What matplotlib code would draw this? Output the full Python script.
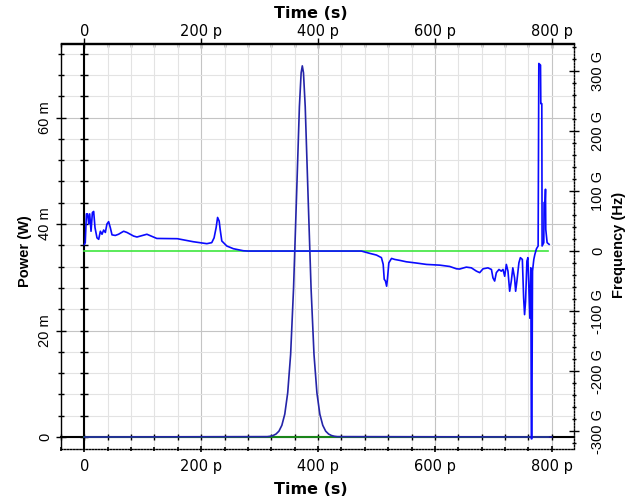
import matplotlib
matplotlib.use("Agg")
import matplotlib.pyplot as plt
from matplotlib.ticker import FixedLocator, MultipleLocator, NullFormatter

# ---------------- data (time in ps, power in mW, frequency in GHz) ----------------
power_t = [0, 313, 318, 323, 328, 333, 338, 343, 348, 353, 358, 363, 368, 371, 373,
           375, 378, 383, 388, 393, 398, 403, 408, 413, 418, 423, 428, 433, 800]
power_p = [0, 0.07, 0.14, 0.28, 0.56, 1.1, 2.2, 4.3, 8.3, 15.5, 27.9, 44.8, 62.0, 68.4, 69.7,
           68.4, 62.0, 44.8, 27.9, 15.5, 8.3, 4.3, 2.2, 1.1, 0.56, 0.28, 0.14, 0.07, 0]

freq_t = [0, 1.5, 3.5, 5.5, 7.4, 9.1, 11.4, 13.7, 15.9, 18.2, 21.6, 24.5, 27.4, 30.2, 33,
          35.9, 38.6, 41.5, 44.4, 47.3, 52.9, 58.5, 67.2, 72.9, 84.2, 90, 107, 124, 159,
          186, 209.6, 218, 222, 225.5, 228, 230.7, 232.4, 235.2, 243.8, 255, 272, 280,
          474, 488.6, 500, 508.4, 511.4, 513.2, 515.3, 517.3, 518.9, 521.1, 525.7, 531.2,
          540, 551, 568.4, 585.5, 608.3, 625.3, 636.8, 642.2, 653.7, 662.4, 671, 676.6,
          682.3, 690.7, 696.7, 699.3, 702.2, 705.1, 709.6, 713.5, 716.5, 719.4, 722.2,
          725, 727.9, 730.7, 733.3, 736.3, 738.1, 740.3, 743.7, 746.2, 749.6, 751.8,
          753.4, 755.1, 757.4, 759.1, 762.4, 764.1, 765.0, 765.8, 767.0, 769.2, 771.0,
          773.8, 776.6, 777.8, 780.7, 781.2, 782.9, 783.4, 786.3, 786.8, 788.5, 789.2,
          789.7, 792.0, 795.4]
freq_f = [11, 14, 62, 62, 45, 62, 33, 64, 66, 39, 22, 19.6, 33, 28, 35,
          31, 45, 49, 39, 27, 26, 28, 33, 31, 25, 23.4, 28, 21, 20.6,
          15.6, 12.3, 14, 22, 39, 56, 50, 36, 16.8, 8.4, 3.9, 0.5, 0,
          0, -3.9, -6.7, -11, -22, -47, -50, -58.6, -44.7, -19.6, -12.3, -14,
          -15.6, -17.9, -20, -22.3, -23.5, -25.7, -29.6, -30, -26.8, -28, -33.5, -36,
          -29.6, -28, -30.7, -44.7, -50, -36, -30.7, -33.5, -30.7, -42, -22.3,
          -33.5, -67, -50, -28, -44.7, -67, -50, -19.6, -11, -14, -78,
          -106, -84, -16.8, -11, -112, -28, -313, -313, -33.5, -14, -5.6,
          3.9, 8.4, 312.7, 310, 245.7, 245.7, 8.4, 14, 81, 81, 103,
          36, 14, 11.2]

ref_t = [0, 794]
ref_power = [0, 0]
ref_freq = [0, 0]

time_ticks = [0, 200, 400, 600, 800]
time_labels = ["0", "200 p", "400 p", "600 p", "800 p"]
power_ticks = [0, 20, 40, 60]
power_labels = ["0", "20 m", "40 m", "60 m"]
freq_ticks = [-300, -200, -100, 0, 100, 200, 300]
freq_labels = ["-300 G", "-200 G", "-100 G", "0", "100 G", "200 G", "300 G"]

# ---------------- layout ----------------
W_PX, H_PX = 638, 501
XLIM = (-40, 838)
PLIM = (-2.25, 73.9)
FLIM = (-330, 346)

fig = plt.figure(figsize=(W_PX / 100, H_PX / 100), dpi=100)
left, right, top, bottom = 61, 574, 43.5, 449
ax = fig.add_axes([left / W_PX, 1 - bottom / H_PX, (right - left) / W_PX, (bottom - top) / H_PX])
ax.set_xlim(XLIM)
ax.set_ylim(PLIM)

TICK_H = dict(family="DejaVu Sans", size=10.5)
TICK_V = dict(family="Liberation Sans", size=10.5)

# grid
ax.xaxis.set_major_locator(FixedLocator(time_ticks))
ax.xaxis.set_minor_locator(MultipleLocator(40))
ax.yaxis.set_major_locator(FixedLocator(power_ticks))
ax.yaxis.set_minor_locator(MultipleLocator(4))
ax.grid(which="minor", color="#e3e3e3", lw=0.8)
ax.grid(which="major", color="#c4c4c4", lw=0.8)
ax.set_axisbelow(True)

ax.set_xticklabels(time_labels, **TICK_H)
ax.set_yticklabels(power_labels, rotation=90, va="center", **TICK_V)

# spines of main axes
ax.spines["right"].set_visible(False)
ax.spines["left"].set_linewidth(1.0)
ax.spines["top"].set_linewidth(1.0)
ax.spines["bottom"].set_linewidth(1.0)
ax.spines["bottom"].set_linestyle((0, (1, 1.2)))

ax.tick_params(axis="y", which="major", direction="inout", length=7, width=1, pad=3)
ax.tick_params(axis="y", which="minor", direction="inout", length=5, width=1)
ax.tick_params(axis="x", which="major", direction="inout", length=4, width=1.2, pad=5)
ax.tick_params(axis="x", which="minor", direction="inout", length=3, width=1.2)

# top axis
top_ax = ax.secondary_xaxis("top")
top_ax.xaxis.set_major_locator(FixedLocator(time_ticks))
top_ax.xaxis.set_minor_locator(MultipleLocator(40))
top_ax.set_xticklabels(time_labels, **TICK_H)
top_ax.tick_params(which="major", direction="inout", length=7, width=1, pad=0)
top_ax.tick_params(which="minor", direction="in", length=3, width=1)
top_ax.spines["top"].set_linewidth(1.0)

# zero lines with ticks (axes through origin)
loc_x0 = (0 - XLIM[0]) / (XLIM[1] - XLIM[0])
loc_y0 = (0 - PLIM[0]) / (PLIM[1] - PLIM[0])
vz = ax.secondary_yaxis(loc_x0)
vz.set_zorder(1)
vz.yaxis.set_major_locator(FixedLocator(power_ticks))
vz.yaxis.set_minor_locator(MultipleLocator(4))
vz.yaxis.set_major_formatter(NullFormatter())
vz.tick_params(which="both", direction="inout", length=6, width=1)
for s in vz.spines.values():
    s.set_linewidth(1.5)
hz = ax.secondary_xaxis(loc_y0)
hz.set_zorder(1)
hz.xaxis.set_major_locator(FixedLocator(time_ticks))
hz.xaxis.set_minor_locator(MultipleLocator(40))
hz.xaxis.set_major_formatter(NullFormatter())
hz.tick_params(which="both", direction="inout", length=5, width=1)
for s in hz.spines.values():
    s.set_linewidth(1.5)

# power traces
ax.plot(ref_t, ref_power, color="#20a020", lw=1.2, zorder=3)
ax.plot(power_t, power_p, color="#2424a8", lw=1.2, zorder=4)

# frequency axis
ax2 = ax.twinx()
ax2.set_ylim(FLIM)
ax2.set_yticks(freq_ticks)
ax2.set_yticklabels(freq_labels, rotation=90, va="center", **TICK_V)
ax2.yaxis.set_minor_locator(MultipleLocator(20))
ax2.tick_params(which="major", direction="inout", length=7, width=1, pad=9)
ax2.tick_params(which="minor", direction="inout", length=3, width=1)
for k in ("left", "top", "bottom"):
    ax2.spines[k].set_visible(False)
ax2.spines["right"].set_linewidth(1.0)
ax2.spines["right"].set_linestyle((0, (1, 1.2)))
ax2.plot(ref_t, ref_freq, color="#3ee63e", lw=1.2, zorder=3)
ax2.plot(freq_t, freq_f, color="#0a0aff", lw=1.2, zorder=4)

# axis titles
fig.text(311 / W_PX, 1 - 13 / H_PX, "Time (s)", ha="center", va="center",
         family="DejaVu Sans", fontweight="bold", size=11.5)
fig.text(311 / W_PX, 1 - 489 / H_PX, "Time (s)", ha="center", va="center",
         family="DejaVu Sans", fontweight="bold", size=11.5)
fig.text(25 / W_PX, 1 - 251 / H_PX, "Power (W)", ha="center", va="center", rotation=90,
         family="Liberation Sans", fontweight="bold", size=10.5)
fig.text(619 / W_PX, 1 - 245 / H_PX, "Frequency (Hz)", ha="center", va="center", rotation=90,
         family="Liberation Sans", fontweight="bold", size=10.5)

fig.savefig("out.png", dpi=100)
